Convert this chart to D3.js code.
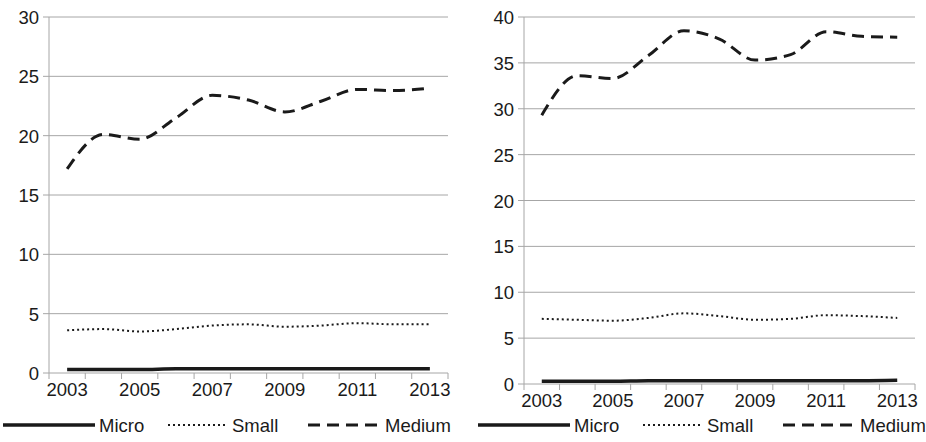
<!DOCTYPE html>
<html><head><meta charset="utf-8">
<script src="https://cdn.jsdelivr.net/npm/d3@7"></script>
<style>body{margin:0;background:#fff}text{font-family:"Liberation Sans",Arial,sans-serif;font-size:18.5px;fill:#1a1a1a}</style>
</head><body><svg id="c" width="926" height="442"></svg>
<script>
const years=["2003","2004","2005","2006","2007","2008","2009","2010","2011","2012","2013"];
const leftMicro=[0.3,0.3,0.3,0.35,0.35,0.35,0.35,0.35,0.35,0.35,0.35];
const leftSmall=[3.6,3.7,3.5,3.7,4.0,4.1,3.9,4.0,4.2,4.1,4.1];
const leftMedium=[17.2,20.1,19.7,21.5,23.4,23.0,22.0,22.9,23.9,23.8,24.0];
const rightMicro=[0.3,0.3,0.3,0.35,0.35,0.35,0.35,0.35,0.35,0.35,0.4];
const rightSmall=[7.1,7.0,6.9,7.2,7.7,7.4,7.0,7.1,7.5,7.4,7.2];
const rightMedium=[29.3,33.6,33.3,35.8,38.5,37.6,35.3,35.9,38.4,37.9,37.8];
const leftTicks=[0,5,10,15,20,25,30];
const rightTicks=[0,5,10,15,20,25,30,35,40];
const seriesNames=["Micro","Small","Medium"];
const styles=[{w:3.5,d:null},{w:2,d:"2,3"},{w:3,d:"12,7"}];
const svg=d3.select("#c");
function panel(x0,x1,y0,y1,max,ticks,data,legX){
  const g=svg.append("g");
  const x=d3.scaleBand().domain(years).range([x0,x1]);
  const y=d3.scaleLinear().domain([0,max]).range([y0,y1]);
  g.selectAll(".gl").data(ticks.filter(t=>t>0)).join("line").attr("x1",x0).attr("x2",x1)
   .attr("y1",d=>y(d)).attr("y2",d=>y(d)).attr("stroke","#a6a6a6").attr("stroke-width",1);
  g.append("line").attr("x1",x0).attr("x2",x0).attr("y1",y0).attr("y2",y1).attr("stroke","#a6a6a6");
  g.selectAll(".yt").data(ticks).join("line").attr("x1",x0-6).attr("x2",x0).attr("y1",d=>y(d)).attr("y2",d=>y(d)).attr("stroke","#a6a6a6");
  g.selectAll(".yl").data(ticks).join("text").attr("x",x0-10).attr("y",d=>y(d)+7).attr("text-anchor","end").text(d=>d);
  g.append("line").attr("x1",x0).attr("x2",x1).attr("y1",y0).attr("y2",y0).attr("stroke","#a6a6a6");
  const bounds=years.map(d=>x(d)).concat([x1]);
  g.selectAll(".xt").data(bounds).join("line").attr("x1",d=>d).attr("x2",d=>d).attr("y1",y0).attr("y2",y0+6).attr("stroke","#a6a6a6");
  g.selectAll(".xl").data(years.filter((d,i)=>i%2==0)).join("text").attr("x",d=>x(d)+x.bandwidth()/2).attr("y",y0+23).attr("text-anchor","middle").text(d=>d);
  const line=d3.line().x((d,i)=>x(years[i])+x.bandwidth()/2).y(d=>y(d)).curve(d3.curveMonotoneX);
  data.forEach((s,k)=>{g.append("path").attr("d",line(s)).attr("fill","none").attr("stroke","#1a1a1a")
    .attr("stroke-width",styles[k].w).attr("stroke-dasharray",styles[k].d);});
  const ly=432; const pos=[[legX,legX+92],[legX+165,legX+225],[legX+305,legX+378]];
  seriesNames.forEach((n,k)=>{
    g.append("line").attr("x1",pos[k][0]).attr("x2",pos[k][1]).attr("y1",ly-7).attr("y2",ly-7).attr("stroke","#1a1a1a")
     .attr("stroke-width",styles[k].w).attr("stroke-dasharray",styles[k].d);
    g.append("text").attr("x",pos[k][1]+4).attr("y",ly).text(n);
  });
}
panel(49,448,373,17,30,leftTicks,[leftMicro,leftSmall,leftMedium],3);
panel(524,915,384,17,40,rightTicks,[rightMicro,rightSmall,rightMedium],478);
</script></body></html>
